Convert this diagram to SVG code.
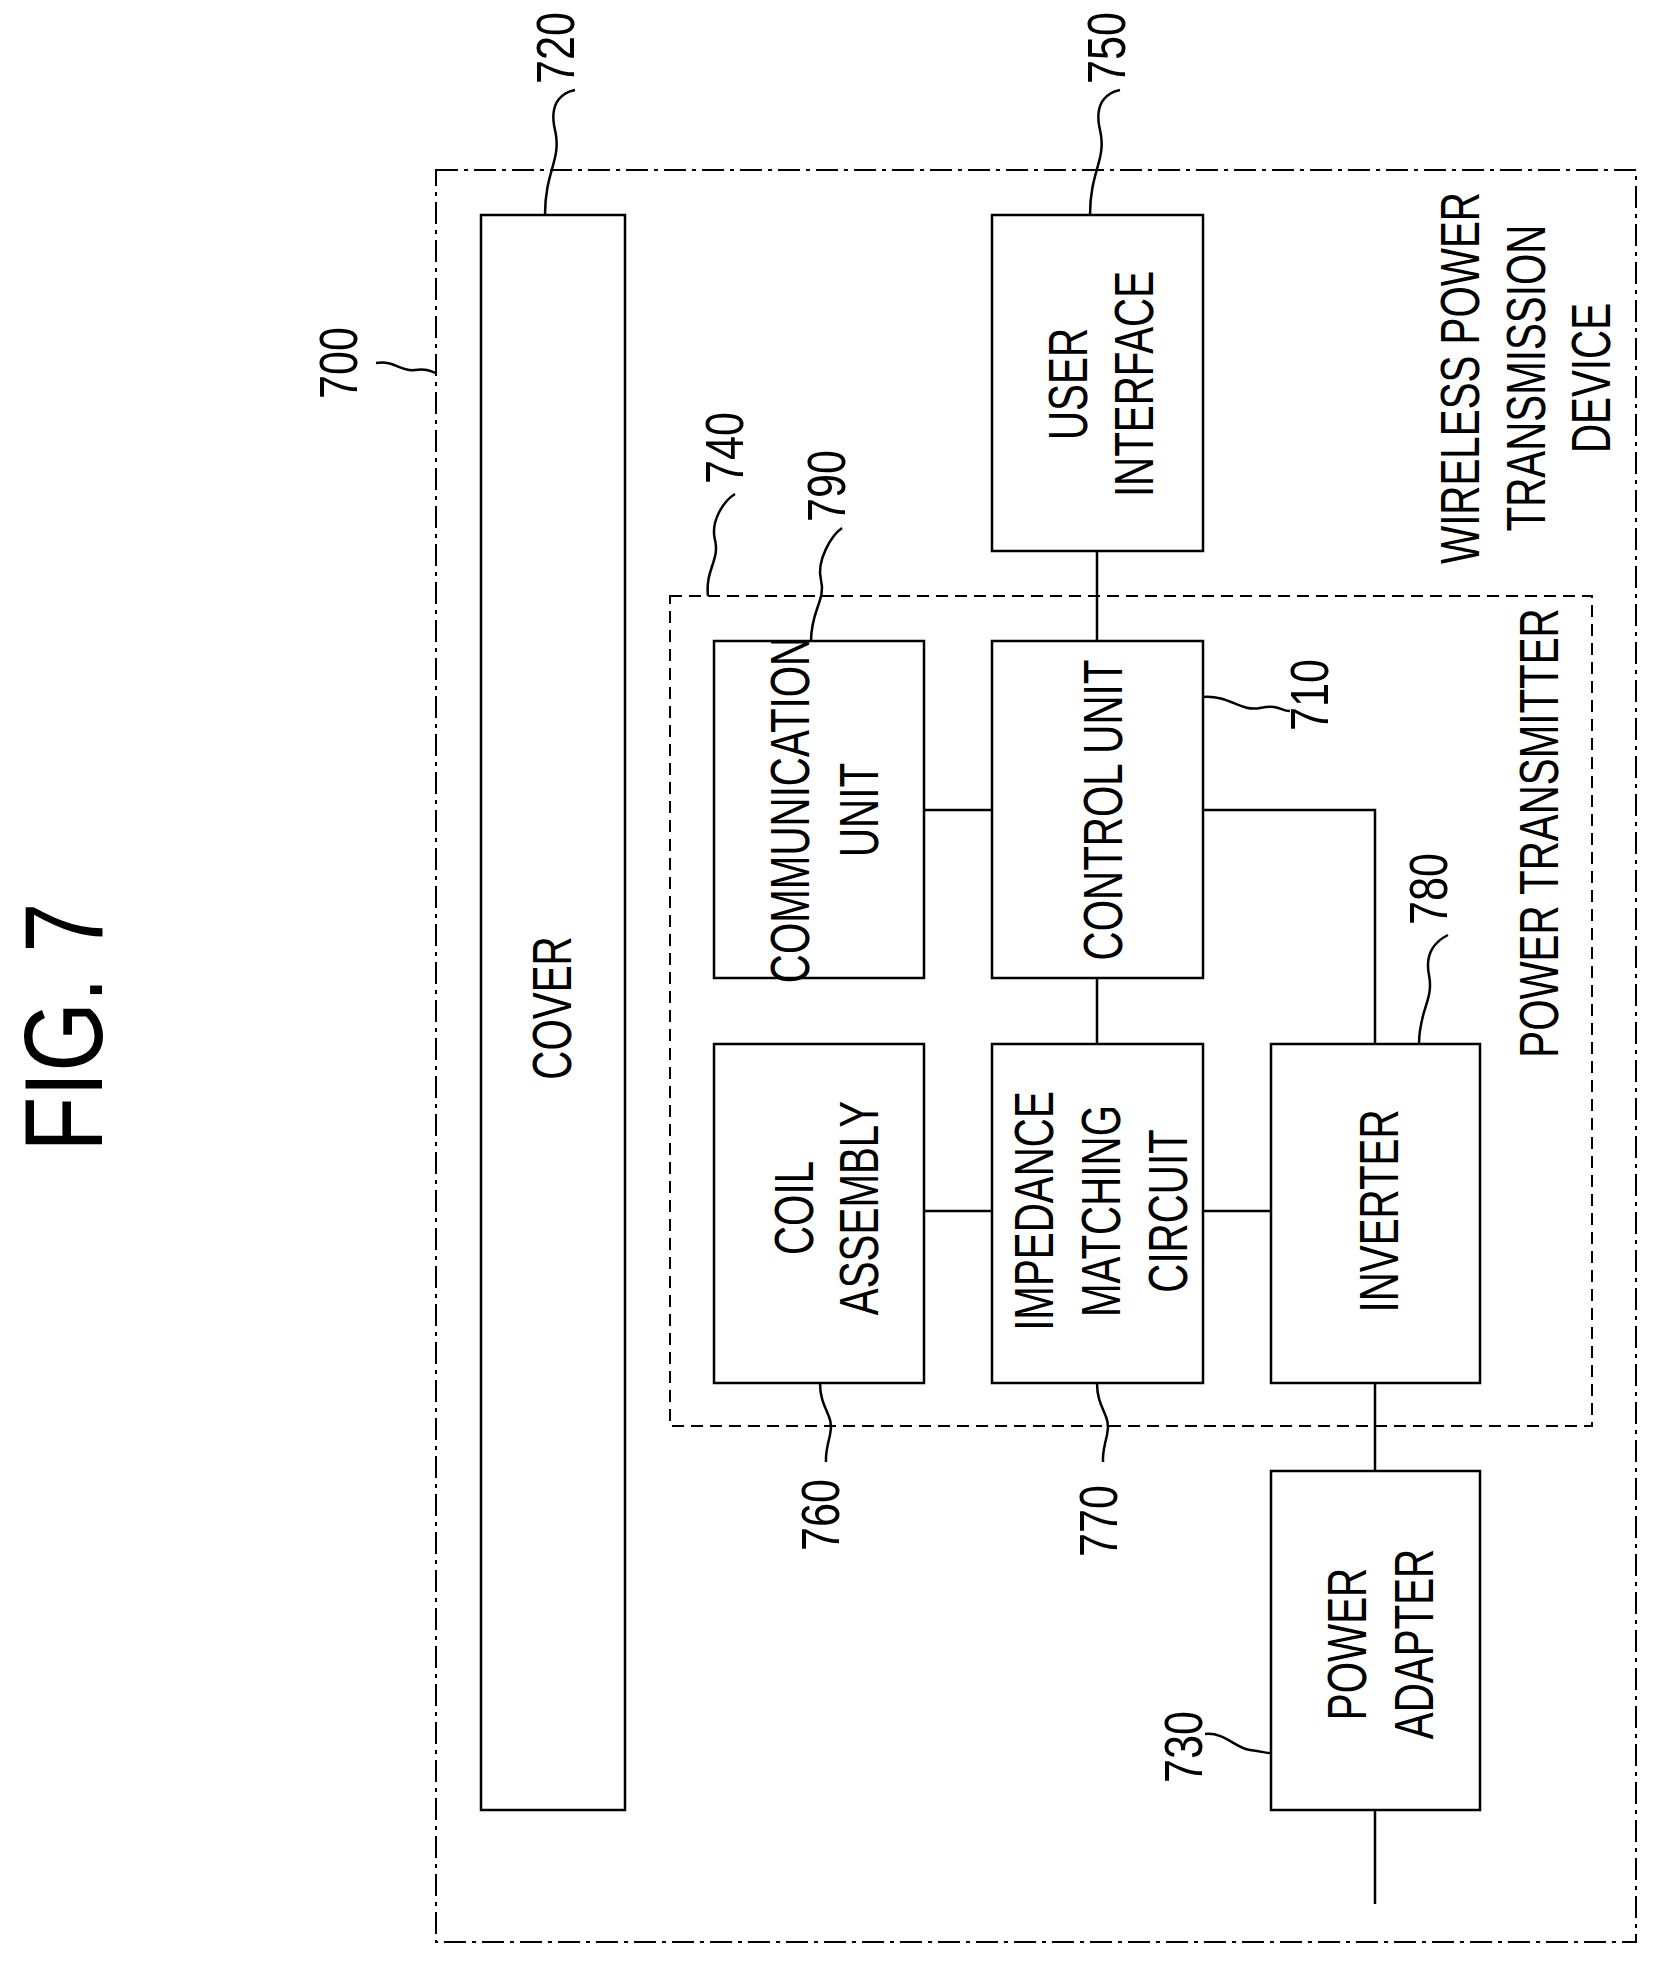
<svg xmlns="http://www.w3.org/2000/svg" width="1658" height="1963" viewBox="0 0 1658 1963">
<style>
.b{fill:#fff;stroke:#000;stroke-width:2.5}
.l{fill:none;stroke:#000;stroke-width:2.5}
.t{font-family:"Liberation Sans",Arial,sans-serif;font-size:56px;text-anchor:middle;dominant-baseline:central;fill:#000}
.n{font-family:"Liberation Sans",Arial,sans-serif;font-size:54px;text-anchor:middle;dominant-baseline:central;fill:#000}
</style>
<rect width="1658" height="1963" fill="#fff"/>
<text class="t" style="font-size:112px" transform="translate(63,1027) rotate(-90) scale(0.8,1)">FIG. 7</text>
<g id="device">
<rect x="436" y="170" width="1200" height="1772" fill="none" stroke="#000" stroke-width="2" stroke-dasharray="22,6,4,6"/>
<text class="t" transform="translate(1459,378) rotate(-90) scale(0.72,1)">WIRELESS POWER</text>
<text class="t" transform="translate(1525,378) rotate(-90) scale(0.72,1)">TRANSMISSION</text>
<text class="t" transform="translate(1590,378) rotate(-90) scale(0.72,1)">DEVICE</text>
</g>
<g id="transmitter">
<rect x="670" y="596" width="922" height="830" fill="none" stroke="#000" stroke-width="2" stroke-dasharray="12,7"/>
<text class="t" transform="translate(1538,833) rotate(-90) scale(0.72,1)">POWER TRANSMITTER</text>
</g>
<g id="connectors">
<path class="l" d="M1097 551V641M924 810H992M1203 810H1375V1044M1097 978V1044"/>
<path class="l" stroke-width="5" d="M924 1211H992M1203 1211H1271M1375 1383V1471M1375 1810V1904"/>
</g>
<g id="cover"><rect class="b" x="481" y="215" width="144" height="1595"/>
<text class="t" transform="translate(551,1008) rotate(-90) scale(0.72,1)">COVER</text></g>
<g id="ui"><rect class="b" x="992" y="215" width="211" height="336"/>
<text class="t" transform="translate(1067,384) rotate(-90) scale(0.72,1)">USER</text>
<text class="t" transform="translate(1133,384) rotate(-90) scale(0.72,1)">INTERFACE</text></g>
<g id="comm"><rect class="b" x="714" y="641" width="210" height="337"/>
<text class="t" transform="translate(789,810) rotate(-90) scale(0.72,1)">COMMUNICATION</text>
<text class="t" transform="translate(858,810) rotate(-90) scale(0.72,1)">UNIT</text></g>
<g id="control"><rect class="b" x="992" y="641" width="211" height="337"/>
<text class="t" transform="translate(1102,810) rotate(-90) scale(0.72,1)">CONTROL UNIT</text></g>
<g id="coil"><rect class="b" x="714" y="1044" width="210" height="339"/>
<text class="t" transform="translate(793,1208) rotate(-90) scale(0.72,1)">COIL</text>
<text class="t" transform="translate(858,1208) rotate(-90) scale(0.72,1)">ASSEMBLY</text></g>
<g id="impedance"><rect class="b" x="992" y="1044" width="211" height="339"/>
<text class="t" transform="translate(1033,1211) rotate(-90) scale(0.72,1)">IMPEDANCE</text>
<text class="t" transform="translate(1100,1211) rotate(-90) scale(0.72,1)">MATCHING</text>
<text class="t" transform="translate(1167,1211) rotate(-90) scale(0.72,1)">CIRCUIT</text></g>
<g id="inverter"><rect class="b" x="1271" y="1044" width="209" height="339"/>
<text class="t" transform="translate(1378,1211) rotate(-90) scale(0.72,1)">INVERTER</text></g>
<g id="adapter"><rect class="b" x="1271" y="1471" width="209" height="339"/>
<text class="t" transform="translate(1346,1644) rotate(-90) scale(0.72,1)">POWER</text>
<text class="t" transform="translate(1413,1644) rotate(-90) scale(0.72,1)">ADAPTER</text></g>
<g id="refs">
<path class="l" stroke-width="2" d="M545 215C545 170 562 160 555 130S565 92 575 90"/>
<text class="n" transform="translate(555,48) rotate(-90) scale(0.8,1)">720</text>
<path class="l" stroke-width="2" d="M1090 215C1090 170 1107 160 1100 130S1110 92 1120 90"/>
<text class="n" transform="translate(1106,48) rotate(-90) scale(0.8,1)">750</text>
<path class="l" stroke-width="2" d="M376 363C395 360 400 372 415 370S430 372 436 373"/>
<text class="n" transform="translate(338,363) rotate(-90) scale(0.8,1)">700</text>
<path class="l" stroke-width="2" d="M708 596C705 570 720 560 715 540S725 500 735 494"/>
<text class="n" transform="translate(724,448) rotate(-90) scale(0.8,1)">740</text>
<path class="l" stroke-width="2" d="M811 641C811 610 826 600 821 580S832 535 842 528"/>
<text class="n" transform="translate(826,486) rotate(-90) scale(0.8,1)">790</text>
<path class="l" stroke-width="2" d="M1203 697C1230 695 1240 712 1260 708S1280 711 1290 711"/>
<text class="n" transform="translate(1309,695) rotate(-90) scale(0.8,1)">710</text>
<path class="l" stroke-width="2" d="M1419 1044C1419 1010 1434 1000 1429 975S1438 940 1448 935"/>
<text class="n" transform="translate(1428,889) rotate(-90) scale(0.8,1)">780</text>
<path class="l" stroke-width="2" d="M820 1383C820 1410 835 1415 830 1435S826 1455 826 1462"/>
<text class="n" transform="translate(820,1515) rotate(-90) scale(0.8,1)">760</text>
<path class="l" stroke-width="2" d="M1097 1383C1097 1410 1112 1415 1107 1435S1103 1455 1103 1462"/>
<text class="n" transform="translate(1098,1521) rotate(-90) scale(0.8,1)">770</text>
<path class="l" stroke-width="2" d="M1205 1734C1225 1732 1235 1748 1250 1750S1265 1753 1271 1753"/>
<text class="n" transform="translate(1183,1747) rotate(-90) scale(0.8,1)">730</text>
</g>
</svg>
